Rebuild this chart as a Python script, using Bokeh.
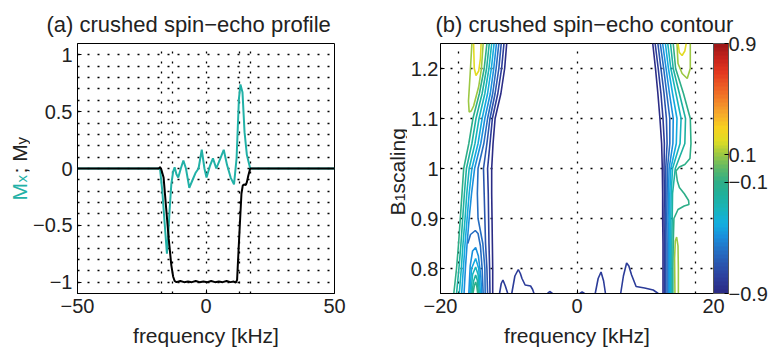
import numpy as np
from math import pi
from bokeh.plotting import figure
from bokeh.layouts import row
from bokeh.models import (Range1d, FixedTicker, ColorBar,
                          LinearColorMapper, ColumnDataSource)
from bokeh.core.properties import value
from bokeh.transform import linear_cmap
from bokeh.embed import file_html
from bokeh.resources import INLINE

FONT = "Liberation Sans"
TEAL = "#22b1a7"
INK = "#222222"

# ---------------- panel (a): crushed spin-echo profile ----------------
mx_freq = [-50, -18.0, -17.9, -17.0, -16.1, -15.2, -14.7, -14.2, -13.5, -12.8, -12.2,
           -11.5, -10.8, -9.8, -8.8, -7.8, -6.5, -5.4, -4.1, -2.9, -1.65, -0.6, 0.2,
           1.5, 2.7, 4.0, 5.6, 6.9, 8.2, 9.6, 10.9, 11.9, 12.8, 13.4, 14.2, 15.0,
           15.9, 17.2, 50]
mx_vals = [0, 0, 0.0, -0.2, -0.48, -0.75, -0.6, -0.38, -0.14, -0.03, 0.01,
           -0.05, -0.08, 0.0, 0.07, 0.0, -0.17, -0.11, -0.04, 0.0, 0.165, 0.0, -0.08,
           0.02, 0.09, 0.0, 0.09, 0.165, 0.03, -0.08, -0.14, 0.09, 0.61, 0.74, 0.67, 0.32,
           0.12, 0.0, 0]

my_freq = [-50, -18.3, -17.9, -17.5, -16.5, -15.5, -14.5, -13.5, -12.8, -12.2, -11.5,
           -10.0, -8.5, -7.0, -5.5, -4.0, -2.5, -1.0, 0.5, 2.0, 3.5, 5.0, 6.5, 8.0,
           9.5, 10.8, 11.6, 12.1, 12.6, 13.2, 13.8, 14.3, 14.8, 15.5, 15.9, 16.5, 17.2, 50]
my_vals = [0, 0, 0.012, 0.0, -0.08, -0.35, -0.62, -0.85, -0.95, -0.99, -1.0,
           -0.99, -1.0, -0.995, -1.0, -0.99, -1.0, -0.995, -1.0, -0.99, -1.0, -0.995,
           -1.0, -0.99, -1.0, -0.995, -1.005, -0.98, -0.75, -0.48, -0.22, -0.15, -0.14,
           -0.145, -0.12, -0.06, 0.0, 0]

a_x_ticks = [-50, 0, 50]
a_x_labels = ["\u221250", "0", "50"]
a_y_ticks = [-1, -0.5, 0, 0.5, 1]
a_y_labels = ["\u22121", "\u22120.5", "0", "0.5", "1"]
a_grid_x = [-17.3, -13.2, 0, 13.2, 17.3]
a_grid_y = [round(v, 1) for v in np.arange(-1.0, 1.01, 0.1)]

# ---------------- panel (b): crushed spin-echo contour ----------------
b1_rows = [0.75, 0.80, 0.85, 0.90, 0.95, 1.00, 1.05, 1.10, 1.15, 1.20, 1.25]

left_levels = [-0.1, -0.2, -0.3, -0.4, -0.5, -0.6, -0.7, -0.8, -0.9]
left_band = [
    [-18.05, -17.65, -17.35, -17.1, -16.85, -16.6, -15.85, -15.25, -14.3, -13.6, -13.2],
    [-17.65, -17.3, -17.0, -16.75, -16.5, -16.2, -15.4, -14.8, -13.9, -13.25, -12.85],
    [-17.25, -16.95, -16.7, -16.4, -16.15, -15.8, -14.95, -14.35, -13.5, -12.9, -12.5],
    [-16.9, -16.65, -16.4, -16.1, -15.8, -15.4, -14.5, -13.9, -13.1, -12.55, -12.15],
    [-16.55, -16.35, -16.1, -15.8, -15.45, -15.0, -14.1, -13.5, -12.7, -12.2, -11.8],
    [-13.45, -13.5, -13.8, -14.5, -14.6, -14.5, -13.65, -13.1, -12.35, -11.85, -11.45],
    [-13.1, -13.2, -13.4, -13.5, -13.6, -13.7, -13.2, -12.75, -12.0, -11.45, -11.1],
    [-12.75, -12.8, -12.9, -12.95, -13.0, -13.1, -12.75, -12.4, -11.6, -11.05, -10.7],
    [-12.35, -12.35, -12.4, -12.45, -12.5, -12.5, -12.3, -12.0, -11.15, -10.6, -10.3],
]

right_levels = [-0.2, -0.3, -0.4, -0.5, -0.6, -0.7, -0.8, -0.9]
right_band = [
    [13.9, 13.9, 13.9, 13.95, 14.0, 14.4, 15.8, 15.9, 15.0, 14.1, 13.7],
    [13.75, 13.75, 13.75, 13.75, 13.8, 14.0, 15.1, 15.25, 14.5, 13.75, 13.3],
    [13.6, 13.6, 13.6, 13.55, 13.6, 13.75, 14.55, 14.65, 14.0, 13.4, 12.95],
    [13.4, 13.4, 13.4, 13.35, 13.4, 13.5, 14.05, 14.1, 13.55, 13.05, 12.55],
    [13.2, 13.2, 13.2, 13.15, 13.2, 13.25, 13.6, 13.6, 13.15, 12.7, 12.2],
    [13.0, 13.0, 13.0, 12.95, 13.0, 13.0, 13.2, 13.1, 12.75, 12.3, 11.85],
    [12.8, 12.8, 12.8, 12.75, 12.8, 12.75, 12.8, 12.6, 12.3, 11.9, 11.45],
    [12.6, 12.6, 12.6, 12.55, 12.55, 12.5, 12.4, 12.15, 11.85, 11.5, 11.1],
]

# outermost right contour (level -0.1) with its two tongues
right_edge_level = -0.1
right_edge_f = [14.1, 14.45, 15.6, 16.6, 16.7, 16.55, 15.8, 15.0, 14.5, 14.7, 15.0,
                15.7, 16.35, 16.4, 15.7, 14.8, 14.2, 14.1, 14.05, 14.05]
right_edge_b = [1.25, 1.20, 1.15, 1.10, 1.05, 1.02, 1.008, 1.003, 0.995, 0.975, 0.962,
                0.95, 0.936, 0.928, 0.925, 0.918, 0.90, 0.85, 0.80, 0.75]

# nested caps at the lower left edge
hill_levels = [-0.6, -0.5, -0.4, -0.3, -0.2, -0.1]
hill_f = [
    [-16.0, -15.6, -14.9, -14.5, -14.15, -13.9, -13.75],
    [-15.85, -15.65, -15.3, -14.85, -14.45, -14.1, -13.95],
    [-15.7, -15.45, -14.85, -14.4, -14.15],
    [-15.55, -15.3, -14.85, -14.5, -14.3],
    [-15.4, -15.15, -14.85, -14.6, -14.45],
    [-15.25, -15.05, -14.85, -14.7, -14.55],
]
hill_b = [
    [0.85, 0.868, 0.876, 0.87, 0.845, 0.80, 0.75],
    [0.75, 0.805, 0.835, 0.842, 0.825, 0.785, 0.75],
    [0.75, 0.80, 0.82, 0.80, 0.75],
    [0.75, 0.788, 0.803, 0.788, 0.75],
    [0.75, 0.775, 0.787, 0.776, 0.75],
    [0.75, 0.765, 0.773, 0.766, 0.75],
]

# positive loops (overshoot) outside the band
loop_levels = [0.1, 0.2, 0.1, 0.2, 0.1]
loop_f = [
    [-15.4, -15.65, -15.9, -15.8, -15.5, -15.15, -14.4, -14.0, -13.75],
    [-15.15, -15.05, -14.8, -14.4, -14.15, -14.05],
    [14.65, 14.8, 15.4, 16.15, 16.6, 16.6],
    [14.8, 15.0, 15.4, 15.8, 16.0],
    [14.35, 14.3, 14.4, 14.6, 14.8, 14.85, 14.85],
]
loop_b = [
    [1.25, 1.19, 1.135, 1.113, 1.115, 1.125, 1.164, 1.20, 1.25],
    [1.25, 1.20, 1.186, 1.195, 1.22, 1.25],
    [1.25, 1.21, 1.19, 1.18, 1.20, 1.25],
    [1.25, 1.232, 1.226, 1.235, 1.25],
    [0.75, 0.82, 0.855, 0.863, 0.845, 0.80, 0.75],
]

# small ripples at the bottom of the inverted band
ripple_level = -0.8
ripple_f = [
    [-11.35, -11.1, -10.85, -10.5, -10.15],
    [-9.56, -9.1, -8.6, -8.3, -8.06, -7.6, -6.8, -6.5, -6.3],
    [-4.35, -4.0, -3.6],
    [0.4, 0.75, 1.1],
    [2.67, 3.1, 3.52, 3.9, 4.17],
    [6.4, 6.8, 7.27, 7.6, 8.0, 8.66, 9.9, 11.16, 11.9],
]
ripple_b = [
    [0.75, 0.77, 0.777, 0.765, 0.75],
    [0.75, 0.785, 0.798, 0.79, 0.78, 0.767, 0.765, 0.758, 0.75],
    [0.75, 0.754, 0.75],
    [0.75, 0.753, 0.75],
    [0.75, 0.78, 0.793, 0.775, 0.75],
    [0.75, 0.785, 0.811, 0.805, 0.787, 0.764, 0.761, 0.757, 0.75],
]

b_x_ticks = [-20, 0, 20]
b_x_labels = ["\u221220", "0", "20"]
b_y_ticks = [0.8, 0.9, 1.0, 1.1, 1.2]
b_y_labels = ["0.8", "0.9", "1", "1.1", "1.2"]
b_grid_x = [-17.3, 0, 17.3]
cbar_ticks = [-0.9, -0.1, 0.1, 0.9]
cbar_labels = ["\u22120.9", "\u22120.1", "0.1", "0.9"]

# ---------------- colour map (style) ----------------
cmap_pos = [-0.9, -0.8, -0.7, -0.6, -0.5, -0.4, -0.3, -0.2, -0.1, 0.0,
            0.1, 0.2, 0.3, 0.4, 0.5, 0.6, 0.7, 0.8, 0.9]
cmap_hex = ["#2b2c86", "#2c3f9c", "#2a55ae", "#2470c4", "#1a8fdc", "#12aee0",
            "#18b4bc", "#1fb09c", "#2eae88", "#5cb868", "#9cc843", "#dedd25",
            "#f8d020", "#f6a82c", "#f28228", "#ec5c24", "#e2381f", "#c8241c", "#a01818"]


def _rgb(h):
    return [int(h[i:i + 2], 16) for i in (1, 3, 5)]


_anch = np.array([_rgb(h) for h in cmap_hex], dtype=float)
_pos = np.linspace(-0.9, 0.9, 64)
palette = []
for v in _pos:
    c = [int(round(np.interp(v, cmap_pos, _anch[:, k]))) for k in range(3)]
    palette.append("#%02x%02x%02x" % tuple(c))


def style_axes(p, xt, xl, yt, yl):
    p.xaxis.ticker = FixedTicker(ticks=xt)
    p.xaxis.major_label_overrides = {t: s for t, s in zip(xt, xl)}
    p.yaxis.ticker = FixedTicker(ticks=yt)
    p.yaxis.major_label_overrides = {t: s for t, s in zip(yt, yl)}
    for ax in (p.xaxis, p.yaxis):
        ax.major_label_text_font = FONT
        ax.major_label_text_font_size = "20px"
        ax.major_label_text_color = INK
        ax.major_tick_in = 4
        ax.major_tick_out = 0
        ax.minor_tick_line_color = None
        ax.axis_line_color = "black"
        ax.major_tick_line_color = "black"
        ax.major_label_standoff = 5
        ax.axis_label_text_font = FONT
        ax.axis_label_text_font_size = "21px"
        ax.axis_label_text_font_style = "normal"
        ax.axis_label_text_color = INK
    p.xaxis.axis_label = "frequency [kHz]"
    p.xaxis.axis_label_standoff = 8
    p.outline_line_color = "black"
    p.outline_line_width = 1
    p.title.text_font = FONT
    p.title.text_font_size = "22px"
    p.title.text_font_style = "normal"
    p.title.text_color = INK
    p.title.align = "left"
    p.title.standoff = 13
    for g in (p.xgrid, p.ygrid):
        g.grid_line_color = "black"
        g.grid_line_dash = "2 8"
        g.grid_line_width = 1.3


def label_strip(width):
    s = figure(width=width, height=349, x_range=Range1d(0, width), y_range=Range1d(0, 349),
               output_backend="svg", toolbar_location=None,
               x_axis_location=None, y_axis_location=None, frame_align=False,
               min_border=0, min_border_left=0, min_border_right=0,
               min_border_top=0, min_border_bottom=0)
    s.grid.visible = False
    s.outline_line_color = None
    return s


def rot_text(s, txt, x, y, size, color):
    s.text(x=[x], y=[y], text=[txt], angle=pi / 2, text_font=value(FONT),
           text_font_size=value(size), text_color=color,
           text_align="left", text_baseline="alphabetic")


# ---------------- y label strip for (a) ----------------
la = label_strip(30)
rot_text(la, "M", 19, 149, "21px", TEAL)
rot_text(la, "x", 21, 167, "15px", TEAL)
rot_text(la, "; M", 19, 176, "21px", INK)
rot_text(la, "y", 21, 205, "15px", INK)

# ---------------- figure (a) ----------------
p1 = figure(width=345, height=349, x_range=Range1d(-50, 50), y_range=Range1d(-1.1, 1.1),
            output_backend="svg", toolbar_location=None,
            min_border_left=38, min_border_right=41, min_border_top=43, min_border_bottom=51,
            title="(a) crushed spin\u2212echo profile")
style_axes(p1, a_x_ticks, a_x_labels, a_y_ticks, a_y_labels)
p1.title.offset = -31
p1.xgrid.ticker = FixedTicker(ticks=a_grid_x)
p1.ygrid.ticker = FixedTicker(ticks=a_grid_y)
p1.line(mx_freq, mx_vals, line_color=TEAL, line_width=2)
p1.line(my_freq, my_vals, line_color="black", line_width=2)

# ---------------- y label strip for (b) ----------------
lb = label_strip(32)
rot_text(lb, "B", 22, 134, "21px", INK)
rot_text(lb, "1", 24, 148, "15px", INK)
rot_text(lb, " scaling", 22, 156, "21px", INK)

# ---------------- figure (b) ----------------
xs, ys, lv = [], [], []
for level, fs in zip(left_levels, left_band):
    xs.append(fs); ys.append(b1_rows); lv.append(level)
for level, fs in zip(right_levels, right_band):
    xs.append(fs); ys.append(b1_rows); lv.append(level)
xs.append(right_edge_f); ys.append(right_edge_b); lv.append(right_edge_level)
for level, fs, bs in zip(hill_levels, hill_f, hill_b):
    xs.append(fs); ys.append(bs); lv.append(level)
for level, fs, bs in zip(loop_levels, loop_f, loop_b):
    xs.append(fs); ys.append(bs); lv.append(level)
for fs, bs in zip(ripple_f, ripple_b):
    xs.append(fs); ys.append(bs); lv.append(ripple_level)
src = ColumnDataSource(dict(xs=xs, ys=ys, level=lv))

p2 = figure(width=363, height=349, x_range=Range1d(-20, 20), y_range=Range1d(0.75, 1.25),
            output_backend="svg", toolbar_location=None,
            min_border_left=30, min_border_right=0, min_border_top=43, min_border_bottom=51,
            title="(b) crushed spin\u2212echo contour")
style_axes(p2, b_x_ticks, b_x_labels, b_y_ticks, b_y_labels)
p2.title.offset = -5
p2.yaxis.major_label_standoff = 2
p2.xgrid.ticker = FixedTicker(ticks=b_grid_x)
p2.ygrid.ticker = FixedTicker(ticks=b_y_ticks)
p2.multi_line(xs="xs", ys="ys", source=src, line_width=1.6,
              line_color=linear_cmap("level", palette, -0.9, 0.9))

mapper = LinearColorMapper(palette=palette, low=-0.9, high=0.9)
cbar = ColorBar(color_mapper=mapper, ticker=FixedTicker(ticks=cbar_ticks),
                major_label_overrides={t: s for t, s in zip(cbar_ticks, cbar_labels)},
                width=15, padding=0, margin=8, label_standoff=0,
                major_label_text_font=FONT, major_label_text_font_size="20px",
                major_label_text_color=INK,
                bar_line_color="#555555", major_tick_line_color="black",
                major_tick_in=4, major_tick_out=0, background_fill_alpha=0)
p2.add_layout(cbar, "right")

out = row(la, p1, lb, p2)
open("out.html", "w").write(file_html(out, INLINE))
